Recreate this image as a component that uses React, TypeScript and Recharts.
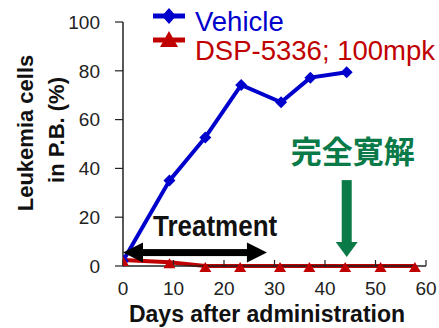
import React from 'react';
import { LineChart, Line, XAxis, YAxis, ReferenceLine } from 'recharts';

// days after administration / % leukemia cells in peripheral blood
const vehicleDays = [0, 9.2, 16.3, 23.4, 31.3, 37.1, 44.3];
const vehicleValues = [2, 35, 52.7, 74.2, 67.1, 77.2, 79.4];
const dspDays = [0, 9.2, 16.3, 23.2, 31.1, 36.9, 44, 51, 57.8];
const dspValues = [2.5, 1.5, 0, 0, 0, 0, 0, 0, 0];

const xTicks = [0, 10, 20, 30, 40, 50, 60];
const yTicks = [0, 20, 40, 60, 80, 100];
const seriesNames = ['Vehicle', 'DSP-5336; 100mpk'];

const treatmentStart = 0;
const treatmentEnd = 28.5;
const treatmentLevel = 5.5;
const remissionDay = 44.3;
const remissionTop = 35.2;
const remissionTip = 3.7;
const remissionText = '完全寛解';

const BLUE = '#0000CC';
const RED = '#C00000';
const GREEN = '#0A7A48';
const AXIS = '#222';
const SANS = '"Liberation Sans", Arial, sans-serif';

const vehicleData = vehicleDays.map((d, i) => ({ day: d, value: vehicleValues[i] }));
const dspData = dspDays.map((d, i) => ({ day: d, value: dspValues[i] }));

const renderDiamond = (p: any) => {
  const { cx, cy, index } = p;
  if (cx == null || cy == null) return <g key={index} />;
  return (
    <polygon
      key={index}
      points={`${cx},${cy - 6} ${cx + 6},${cy} ${cx},${cy + 6} ${cx - 6},${cy}`}
      fill={BLUE}
    />
  );
};

const renderTriangle = (p: any) => {
  const { cx, cy, index } = p;
  if (cx == null || cy == null) return <g key={index} />;
  return (
    <polygon
      key={index}
      points={`${cx},${cy - 4} ${cx + 6},${cy + 6} ${cx - 6},${cy + 6}`}
      fill={RED}
    />
  );
};

// double-headed black arrow with its caption
const TreatmentArrow = (p: any) => {
  const { x1, y1, x2 } = p;
  const head = 20;
  const half = 10;
  const t = 3.5;
  return (
    <g>
      <rect x={x1 + head - 1} y={y1 - t} width={x2 - x1 - 2 * head + 2} height={t * 2} fill="#000" />
      <polygon points={`${x1},${y1} ${x1 + head},${y1 - half} ${x1 + head},${y1 + half}`} fill="#000" />
      <polygon points={`${x2},${y1} ${x2 - head},${y1 - half} ${x2 - head},${y1 + half}`} fill="#000" />
      <text
        transform={`translate(${x1 + 30} ${y1 - 17}) scale(1 1.15)`}
        fontFamily={SANS}
        fontWeight="bold"
        fontSize={26}
        fill="#111"
      >
        Treatment
      </text>
    </g>
  );
};

// green down arrow marking complete remission
const RemissionArrow = (p: any) => {
  const { x1, y1, y2 } = p;
  const head = 15;
  const shaft = 5;
  const half = 11;
  return (
    <g>
      <rect x={x1 - shaft} y={y1} width={shaft * 2} height={y2 - y1 - head + 1} fill={GREEN} />
      <polygon
        points={`${x1 - half},${y2 - head} ${x1 + half},${y2 - head} ${x1},${y2}`}
        fill={GREEN}
      />
      <text
        x={x1 + 6}
        y={y1 - 31}
        textAnchor="middle"
        dominantBaseline="central"
        fontFamily='"Noto Sans CJK JP", "Noto Sans CJK SC", sans-serif'
        fontWeight="bold"
        fontSize={31}
        fill={GREEN}
      >
        {remissionText}
      </text>
    </g>
  );
};

export default function App() {
  return (
    <div
      style={{
        position: 'absolute',
        left: 0,
        top: 0,
        width: 439,
        height: 328,
        overflow: 'hidden',
        background: '#fff',
      }}
    >
      <LineChart
        width={439}
        height={328}
        margin={{ top: 22, right: 13, bottom: 22, left: 0 }}
      >
        <XAxis
          type="number"
          dataKey="day"
          domain={[0, 60]}
          ticks={xTicks}
          interval={0}
          allowDataOverflow
          height={40}
          tickSize={-6}
          tickMargin={22}
          axisLine={{ stroke: AXIS, strokeWidth: 1.5 }}
          tickLine={{ stroke: AXIS, strokeWidth: 1.2 }}
          tick={{
            fill: AXIS,
            fontSize: 19,
            fontFamily: '"Liberation Sans Narrow", "Liberation Sans", Arial, sans-serif',
          }}
        />
        <YAxis
          type="number"
          domain={[0, 100]}
          ticks={yTicks}
          interval={0}
          width={123}
          tickSize={8}
          tickMargin={15}
          axisLine={{ stroke: AXIS, strokeWidth: 1.5 }}
          tickLine={{ stroke: AXIS, strokeWidth: 1.2 }}
          tick={{ fill: AXIS, fontSize: 19, fontFamily: SANS }}
        />
        <Line
          data={vehicleData}
          dataKey="value"
          name={seriesNames[0]}
          type="linear"
          stroke={BLUE}
          strokeWidth={4}
          dot={renderDiamond}
          activeDot={false}
          isAnimationActive={false}
        />
        <Line
          data={dspData}
          dataKey="value"
          name={seriesNames[1]}
          type="linear"
          stroke={RED}
          strokeWidth={4}
          dot={renderTriangle}
          activeDot={false}
          isAnimationActive={false}
        />
        <ReferenceLine
          segment={[
            { x: treatmentStart, y: treatmentLevel },
            { x: treatmentEnd, y: treatmentLevel },
          ]}
          ifOverflow="visible"
          shape={TreatmentArrow}
        />
        <ReferenceLine
          segment={[
            { x: remissionDay, y: remissionTop },
            { x: remissionDay, y: remissionTip },
          ]}
          ifOverflow="visible"
          shape={RemissionArrow}
        />
      </LineChart>

      <svg
        width={439}
        height={328}
        style={{ position: 'absolute', left: 0, top: 0, pointerEvents: 'none' }}
      >
        {/* legend */}
        <line x1={153} y1={16} x2={185} y2={16} stroke={BLUE} strokeWidth={5} />
        <polygon points="169,8 176,16 169,24 162,16" fill={BLUE} />
        <text x={195} y={31} fontFamily={SANS} fontSize={27.5} fill={BLUE}>
          {seriesNames[0]}
        </text>
        <line x1={153} y1={40} x2={185} y2={40} stroke={RED} strokeWidth={5} />
        <polygon points="169,31 178,47 160,47" fill={RED} />
        <text x={195} y={60} fontFamily={SANS} fontSize={27.5} fill={RED}>
          {seriesNames[1]}
        </text>

        {/* axis titles */}
        <g fontFamily={SANS} fontWeight="bold" fontSize={22} fill="#111">
          <text
            x={25}
            y={133}
            textAnchor="middle"
            dominantBaseline="central"
            transform="rotate(-90 25 133)"
          >
            Leukemia cells
          </text>
          <text
            x={56}
            y={130}
            textAnchor="middle"
            dominantBaseline="central"
            transform="rotate(-90 56 130)"
          >
            in P.B. (%)
          </text>
        </g>
        <text
          x={267}
          y={322}
          textAnchor="middle"
          fontFamily={SANS}
          fontWeight="bold"
          fontSize={23}
          fill="#111"
        >
          Days after administration
        </text>
      </svg>
    </div>
  );
}
